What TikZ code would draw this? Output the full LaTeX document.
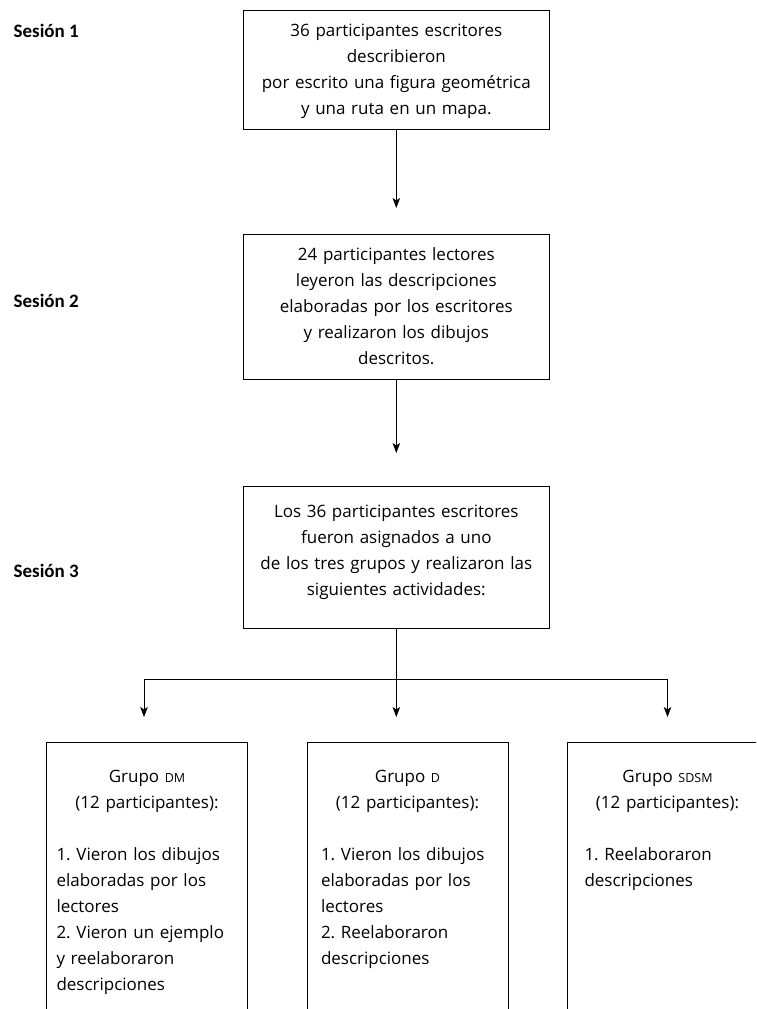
\documentclass[tikz,border=0pt]{standalone}
\usepackage{fontspec}
\setmainfont{Open Sans}
\newfontfamily\sesionfont{Carlito}
\usetikzlibrary{calc}
\usetikzlibrary{arrows.meta}

\newcommand{\sigla}[1]{{\fontsize{12.5}{26}\selectfont #1}}

\begin{document}
\frenchspacing
\begin{tikzpicture}[x=1pt, y=-1pt,
  every node/.style={font=\fontsize{17}{26}\selectfont},
  sesion/.style={anchor=base west, inner sep=0pt, font=\sesionfont\fontsize{19}{26}\selectfont\bfseries},
  paso/.style={rectangle, draw, line width=0.8pt, anchor=north, align=center, text width=290pt, inner xsep=8pt, inner ysep=7.5pt, execute at begin node=\strut, execute at end node=\strut},
  grupo/.style={rectangle, draw, line width=0.8pt, anchor=north, minimum width=201pt, inner xsep=5pt, inner ysep=21.8pt, execute at begin node=\strut},
  flecha/.style={line width=0.7pt, -{Stealth[length=10pt, width=7.5pt, inset=2.5pt]}}]

		\useasboundingbox (0,0) rectangle (756,1009);
		\clip (0,0) rectangle (756,1009);

		\node[sesion] (s1) at (13.5,37) {Sesión 1};
		\node[sesion] (s2) at (13.5,307) {Sesión 2};
		\node[sesion] (s3) at (13.5,577) {Sesión 3};

		\node[paso] (p1) at (396.3,10) {36 participantes escritores\\ describieron\\ por escrito una figura geométrica\\ y una ruta en un mapa.};
		\node[paso] (p2) at (396.3,234) {24 participantes lectores\\ leyeron las descripciones\\ elaboradas por los escritores\\ y realizaron los dibujos\\ descritos.};
		\node[paso, inner ysep=12.5pt] (p3) at (396.3,486) {Los 36 participantes escritores\\ fueron asignados a uno\\ de los tres grupos y realizaron las\\ siguientes actividades:\rule[-20.5pt]{0pt}{0pt}};

		\node[grupo, text width=181pt] (gdm) at (147,742) {{\centering Grupo \sigla{DM}\\ (12 participantes):\par}\vspace{26pt}\raggedright 1. Vieron los dibujos\\ elaboradas por los\\ lectores\\ 2. Vieron un ejemplo\\ y reelaboraron\\ descripciones\rule[-100pt]{0pt}{100pt}};
		\node[grupo, text width=173pt] (gd) at (407.5,742) {{\centering Grupo \sigla{D}\\ (12 participantes):\par}\vspace{26pt}\raggedright 1. Vieron los dibujos\\ elaboradas por los\\ lectores\\ 2. Reelaboraron\\ descripciones\rule[-150pt]{0pt}{150pt}};
		\node[grupo, text width=166pt] (gsdsm) at (667.5,742) {{\centering Grupo \sigla{SDSM}\\ (12 participantes):\par}\vspace{26pt}\raggedright 1. Reelaboraron\\ descripciones\rule[-220pt]{0pt}{220pt}};

		\coordinate (reparto) at (396.3,679);
		\draw[flecha, shorten >=26pt] (p1.south) -- (p2.north);
		\draw[flecha, shorten >=33pt] (p2.south) -- (p3.north);
		\draw[line width=0.7pt] (p3.south) -- (reparto);
		\draw[flecha, shorten >=25pt] (reparto) -| ($(gdm.north)+(-3,0)$);
		\draw[flecha, shorten >=25pt] (reparto) -- (reparto |- gd.north);
		\draw[flecha, shorten >=25pt] (reparto) -| (gsdsm.north);
    \end{tikzpicture}
\end{document}
